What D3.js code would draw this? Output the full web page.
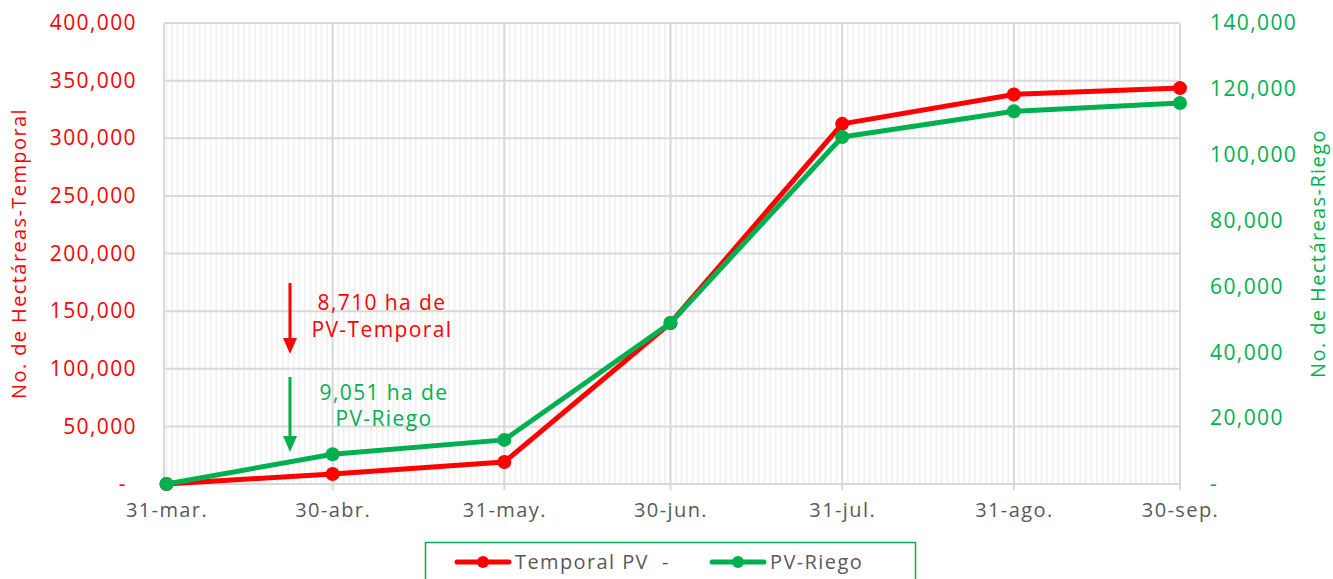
<!DOCTYPE html>
<html>
<head>
<meta charset="utf-8">
<script src="https://cdn.jsdelivr.net/npm/d3@7"></script>
<style>
    body { margin: 0; background: #fff; }
    text { font-family: "Open Sans", "Noto Sans", sans-serif; font-weight: 500; letter-spacing: 1.4px; }
</style>
</head>
<body>
<div class="chart"></div>
<script>
// chart data
var fechas = ["2021-03-31", "2021-04-30", "2021-05-31", "2021-06-30", "2021-07-31", "2021-08-31", "2021-09-30"];
var etiquetasX = ["31-mar.", "30-abr.", "31-may.", "30-jun.", "31-jul.", "31-ago.", "30-sep."];
var temporal = [0, 8710, 19100, 139700, 312500, 338000, 343500];
var riego = [0, 9051, 13400, 48900, 105400, 113200, 115700];
var ticksIzq = [0, 50000, 100000, 150000, 200000, 250000, 300000, 350000, 400000];
var ticksDer = [0, 20000, 40000, 60000, 80000, 100000, 120000, 140000];

var svgWidth = 1333;
var svgHeight = 579;
var rojo = "#ff0000";
var verde = "#00b050";

var plot = { left: 164, right: 1179, top: 23, bottom: 484 };

var svg = d3.select(".chart")
    .append("svg")
    .attr("width", svgWidth)
    .attr("height", svgHeight);

var parse = d3.timeParse("%Y-%m-%d");
var dias = fechas.map(parse);

var x = d3.scaleTime()
    .domain([dias[0], dias[dias.length - 1]])
    .range([plot.left + 2.5, plot.right + 1]);

var yL = d3.scaleLinear().domain([0, 400000]).range([plot.bottom, plot.top]);
var yR = d3.scaleLinear().domain([0, 140000]).range([plot.bottom, plot.top]);

var fmt = function(v) { return v === 0 ? "-" : d3.format(",")(v); };

// minor daily gridlines
var grid = svg.append("g");
grid.selectAll(".minor")
    .data(d3.timeDay.range(dias[0], dias[dias.length - 1]))
    .enter()
    .append("line")
    .attr("x1", d => x(d)).attr("x2", d => x(d))
    .attr("y1", plot.top).attr("y2", plot.bottom)
    .attr("stroke", "#efefef")
    .attr("stroke-width", 1.5);

// horizontal gridlines
grid.selectAll(".hgrid")
    .data(ticksIzq)
    .enter()
    .append("line")
    .attr("x1", plot.left).attr("x2", plot.right)
    .attr("y1", d => yL(d)).attr("y2", d => yL(d))
    .attr("stroke", "#d9d9d9")
    .attr("stroke-width", 2);

// major (month) gridlines with tick marks below
grid.selectAll(".major")
    .data(dias.slice(1))
    .enter()
    .append("line")
    .attr("x1", d => x(d)).attr("x2", d => x(d))
    .attr("y1", plot.top).attr("y2", plot.bottom + 6)
    .attr("stroke", "#d9d9d9")
    .attr("stroke-width", 2);

grid.append("line")
    .attr("x1", plot.left).attr("x2", plot.left)
    .attr("y1", plot.top).attr("y2", plot.bottom + 6)
    .attr("stroke", "#d9d9d9")
    .attr("stroke-width", 2);

// x axis labels
var xAxis = svg.append("g")
    .attr("transform", `translate(0, ${plot.bottom})`)
    .call(d3.axisBottom(x).tickValues(dias).tickSize(0).tickPadding(19)
        .tickFormat((d, i) => etiquetasX[i]));
xAxis.select(".domain").remove();
xAxis.selectAll("text")
    .attr("fill", "#595959")
    .style("font-size", "20px");

// left axis
var leftAxis = svg.append("g")
    .attr("transform", `translate(${plot.left - 27}, 0)`)
    .call(d3.axisLeft(yL).tickValues(ticksIzq).tickSize(0).tickPadding(0).tickFormat(fmt));
leftAxis.select(".domain").remove();
leftAxis.selectAll("text")
    .attr("fill", rojo)
    .style("font-size", "21px")
    .filter(d => d === 0).attr("dx", "-10px");

// right axis
var rightAxis = svg.append("g")
    .attr("transform", `translate(${plot.right + 31}, 0)`)
    .call(d3.axisRight(yR).tickValues(ticksDer).tickSize(0).tickPadding(0).tickFormat(fmt));
rightAxis.select(".domain").remove();
rightAxis.selectAll("text")
    .attr("fill", verde)
    .style("font-size", "21px");

// axis titles
svg.append("text")
    .attr("transform", `translate(26, ${(plot.top + plot.bottom) / 2}) rotate(-90)`)
    .attr("text-anchor", "middle")
    .attr("fill", rojo)
    .style("font-size", "20px")
    .text("No. de Hectáreas-Temporal");

svg.append("text")
    .attr("transform", `translate(1325, ${(plot.top + plot.bottom) / 2}) rotate(-90)`)
    .attr("text-anchor", "middle")
    .attr("fill", verde)
    .style("font-size", "20px")
    .text("No. de Hectáreas-Riego");

// series
function drawSerie(valores, escala, color) {
    var pts = dias.map((d, i) => [x(d), escala(valores[i])]);
    svg.append("path")
        .datum(pts)
        .attr("fill", "none")
        .attr("stroke", color)
        .attr("stroke-width", 5)
        .attr("stroke-linejoin", "round")
        .attr("d", d3.line());
    svg.selectAll(null)
        .data(pts)
        .enter()
        .append("circle")
        .attr("cx", d => d[0])
        .attr("cy", d => d[1])
        .attr("r", 7)
        .attr("fill", color);
}
drawSerie(temporal, yL, rojo);
drawSerie(riego, yR, verde);

// annotations
function flecha(xp, y1, y2, color) {
    svg.append("line")
        .attr("x1", xp).attr("x2", xp)
        .attr("y1", y1).attr("y2", y2 - 14)
        .attr("stroke", color)
        .attr("stroke-width", 3);
    svg.append("path")
        .attr("d", `M${xp - 7},${y2 - 16} L${xp + 7},${y2 - 16} L${xp},${y2} Z`)
        .attr("fill", color);
}
flecha(290, 283, 354, rojo);
flecha(290, 377, 452, verde);

var notaR = svg.append("text")
    .attr("text-anchor", "middle")
    .attr("fill", rojo)
    .style("font-size", "21px");
notaR.append("tspan").attr("x", 382).attr("y", 310).text("8,710 ha de");
notaR.append("tspan").attr("x", 382).attr("y", 337).text("PV-Temporal");

var notaV = svg.append("text")
    .attr("text-anchor", "middle")
    .attr("fill", verde)
    .style("font-size", "21px");
notaV.append("tspan").attr("x", 384).attr("y", 400).text("9,051 ha de");
notaV.append("tspan").attr("x", 384).attr("y", 426).text("PV-Riego");

// legend
var legend = svg.append("g");
legend.append("rect")
    .attr("x", 425.5).attr("y", 542.5)
    .attr("width", 490).attr("height", 50)
    .attr("fill", "#fff")
    .attr("stroke", verde)
    .attr("stroke-width", 1.5);

var items = [
    { label: "Temporal PV  -", color: rojo, x0: 457 },
    { label: "PV-Riego", color: verde, x0: 712 }
];
items.forEach(function(it) {
    legend.append("line")
        .attr("x1", it.x0).attr("x2", it.x0 + 52)
        .attr("y1", 562).attr("y2", 562)
        .attr("stroke", it.color)
        .attr("stroke-width", 5)
        .attr("stroke-linecap", "round");
    legend.append("circle")
        .attr("cx", it.x0 + 26).attr("cy", 562).attr("r", 6)
        .attr("fill", it.color);
    legend.append("text")
        .attr("x", it.x0 + 58).attr("y", 569)
        .attr("fill", "#595959")
        .style("font-size", "20px")
        .style("white-space", "pre")
        .attr("xml:space", "preserve")
        .text(it.label);
});
</script>
</body>
</html>
